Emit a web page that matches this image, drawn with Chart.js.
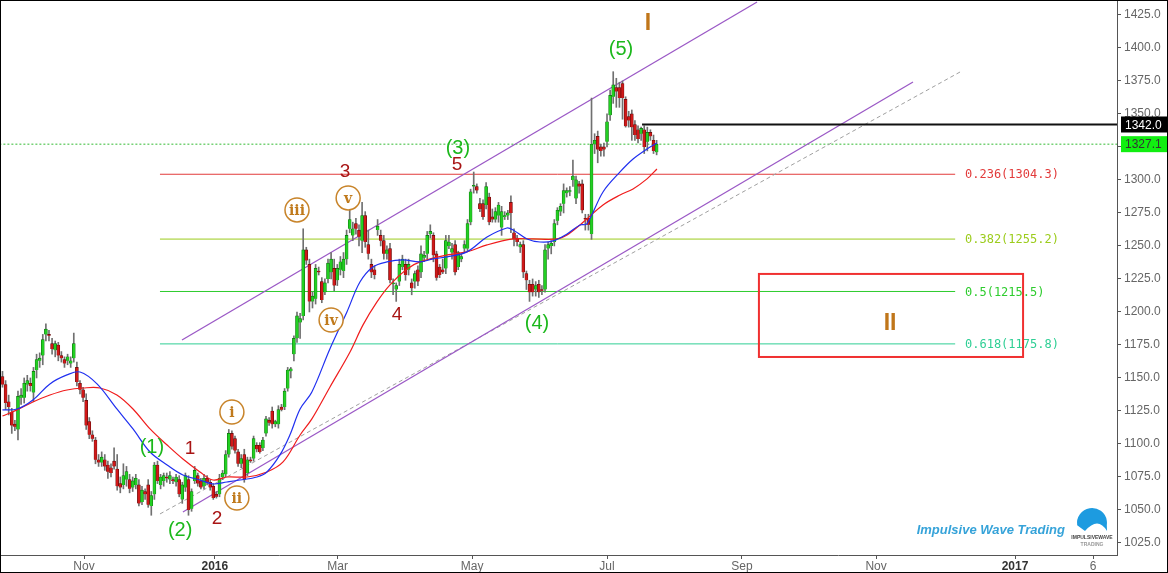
<!DOCTYPE html>
<html>
<head>
<meta charset="utf-8">
<script src="https://cdn.jsdelivr.net/npm/chart.js@4.4.0/dist/chart.umd.min.js"></script>
<style>
  body { margin: 0; background: #fff; }
  #wrap { width: 1168px; height: 573px; }
</style>
</head>
<body>
<div id="wrap"><canvas id="myChart" width="1168" height="573"></canvas></div>
<script>
// daily candles (gold)
var opens = [1151,1145,1132,1124,1115,1111,1135,1135,1145,1146,1139,1156,1163,1167,1183,1183,1176,1171,1175,1167,
  1164,1163,1161,1165,1158,1146,1141,1133,1117,1107,1103,1088,1086,1088,1084,1082,1087,1081,1070,1069,
  1073,1073,1067,1069,1069,1056,1064,1069,1053,1062,1084,1069,1072,1075,1073,1073,1071,1073,1058,1067,
  1073,1051,1072,1076,1072,1068,1074,1071,1068,1062,1062,1075,1077,1092,1108,1104,1094,1085,1092,1078,
  1088,1089,1099,1099,1097,1108,1118,1125,1115,1115,1128,1128,1142,1155,1168,1180,1192,1197,1247,1236,
  1208,1210,1231,1223,1215,1225,1230,1233,1224,1232,1231,1240,1263,1258,1267,1262,1254,1273,1251,1236,
  1232,1262,1258,1254,1244,1248,1221,1217,1223,1234,1236,1232,1222,1223,1232,1230,1241,1244,1259,1258,
  1244,1234,1232,1233,1250,1245,1251,1234,1240,1248,1248,1268,1295,1295,1282,1282,1281,1287,1272,1270,
  1273,1264,1272,1273,1283,1260,1256,1249,1251,1229,1221,1221,1217,1221,1217,1217,1248,1250,1253,1269,
  1276,1282,1290,1291,1300,1286,1297,1297,1271,1271,1259,1327,1333,1325,1325,1329,1349,1363,1370,1370,
  1373,1361,1348,1350,1342,1338,1335,1338,1329,1336,1330,1321];
var highs = [1155,1148,1137,1127,1118,1140,1142,1150,1152,1150,1158,1168,1169,1183,1191,1186,1180,1178,1177,1170,
  1166,1168,1166,1184,1162,1148,1143,1138,1120,1110,1105,1092,1094,1092,1087,1085,1097,1092,1075,1085,
  1083,1077,1075,1077,1073,1068,1066,1073,1064,1086,1087,1077,1078,1078,1079,1075,1077,1076,1071,1078,
  1076,1066,1083,1078,1074,1077,1076,1073,1070,1064,1077,1080,1095,1111,1110,1106,1096,1092,1096,1090,
  1090,1106,1101,1101,1105,1121,1120,1128,1118,1129,1130,1142,1158,1158,1182,1200,1199,1263,1249,1240,
  1215,1236,1234,1226,1225,1240,1245,1240,1236,1242,1245,1262,1281,1268,1271,1266,1283,1276,1262,1240,
  1235,1270,1262,1258,1250,1252,1225,1222,1240,1243,1240,1240,1225,1231,1235,1250,1246,1261,1266,1260,
  1246,1236,1240,1258,1258,1252,1254,1246,1244,1254,1270,1293,1306,1297,1286,1285,1298,1290,1278,1279,
  1283,1280,1276,1277,1288,1263,1258,1253,1254,1231,1224,1225,1223,1224,1220,1251,1253,1254,1270,1279,
  1282,1297,1294,1295,1315,1303,1299,1300,1274,1274,1362,1335,1337,1327,1328,1350,1368,1382,1377,1374,
  1375,1363,1352,1353,1345,1341,1340,1341,1340,1338,1334,1330];
var lows = [1143,1126,1122,1108,1110,1103,1130,1131,1140,1140,1132,1150,1158,1160,1178,1178,1168,1166,1163,1162,
  1158,1160,1158,1162,1144,1138,1132,1111,1104,1102,1085,1083,1083,1080,1074,1075,1081,1065,1063,1066,
  1068,1063,1064,1066,1053,1054,1058,1052,1046,1058,1070,1066,1068,1071,1070,1070,1068,1060,1055,1064,
  1046,1049,1070,1068,1066,1066,1069,1065,1058,1059,1060,1073,1075,1090,1096,1093,1083,1082,1071,1076,
  1086,1087,1094,1093,1095,1106,1114,1112,1113,1112,1125,1126,1140,1150,1163,1177,1180,1194,1236,1200,
  1203,1206,1228,1207,1213,1222,1225,1216,1220,1228,1226,1236,1260,1254,1259,1250,1245,1249,1240,1226,
  1225,1258,1250,1240,1240,1222,1213,1208,1220,1232,1224,1228,1213,1218,1220,1226,1238,1240,1256,1238,
  1224,1226,1229,1229,1248,1240,1228,1232,1238,1245,1246,1266,1290,1290,1276,1270,1278,1266,1268,1268,
  1268,1258,1270,1270,1260,1250,1250,1245,1226,1217,1208,1212,1212,1211,1213,1215,1240,1244,1250,1266,
  1273,1275,1287,1288,1295,1282,1290,1275,1262,1262,1255,1320,1313,1318,1318,1325,1345,1358,1355,1355,
  1346,1340,1340,1330,1330,1328,1330,1320,1322,1330,1320,1319];
var closes = [1145,1131,1128,1114,1113,1136,1137,1146,1148,1144,1155,1164,1165,1179,1187,1182,1172,1176,1167,1165,
  1161,1166,1163,1176,1147,1141,1135,1114,1107,1104,1088,1086,1090,1083,1079,1078,1083,1068,1067,1076,
  1079,1066,1072,1074,1055,1065,1062,1054,1061,1084,1072,1075,1076,1074,1076,1072,1075,1062,1069,1076,
  1050,1064,1080,1070,1067,1074,1071,1067,1059,1060,1074,1078,1092,1108,1098,1095,1085,1089,1073,1088,
  1087,1104,1096,1094,1103,1119,1116,1115,1117,1126,1126,1140,1156,1157,1180,1197,1195,1247,1239,1208,
  1212,1233,1230,1209,1222,1237,1240,1220,1233,1238,1240,1258,1270,1263,1263,1257,1273,1253,1244,1230,
  1228,1265,1254,1244,1247,1224,1222,1220,1236,1240,1228,1236,1218,1229,1223,1244,1243,1258,1261,1243,
  1226,1228,1230,1254,1253,1248,1230,1245,1242,1251,1267,1291,1296,1292,1278,1272,1295,1268,1270,1276,
  1281,1276,1273,1275,1275,1255,1253,1251,1230,1224,1215,1215,1220,1215,1216,1247,1251,1252,1267,1277,
  1280,1292,1292,1292,1303,1300,1295,1277,1270,1266,1327,1330,1323,1322,1323,1344,1364,1372,1367,1362,
  1362,1341,1345,1340,1334,1331,1339,1325,1336,1333,1322,1327];

// moving averages, sampled along the lines (bar index, price)
var blueIdx = [0,4.7,9.8,15.3,20.8,25,30.5,36.9,42.1,47.6,53.1,58.2,63.7,67.9,72.4,76.6,82.1,85.3,89.5,92.7,
  96,99.8,105.6,111.1,115.3,119.5,124,129.2,134.7,138.9,143.4,149.8,156.3,162.7,164.7,169.2,173.4,177.6,182.1,186.3,
  188.5,193.7,199.2,203.4,207.9,211.1];
var blueVal = [1125.8,1126.5,1133.3,1145.5,1152.3,1154.5,1145.5,1126.5,1111.4,1093.9,1084.1,1076.5,1072.7,1069.7,1071.2,1072.7,1075,1078.8,1091.7,1106.8,
  1126.5,1139.4,1172,1200,1222.7,1234.1,1237.9,1239.4,1237.9,1240.2,1241.7,1245.5,1256.8,1263.6,1262.1,1255.3,1253,1253.8,1259.1,1265.9,
  1266.7,1290.9,1306.1,1315.9,1323.5,1328];
var redIdx = [0,4.7,9.8,15.3,20.8,26,31.5,36.9,42.1,47.6,53.1,58.2,63.7,67.9,72.4,78.9,85.3,90.5,96,99.8,
  105.6,112.1,116.3,120.8,125,130.5,134.7,143.4,149.8,156.3,164.7,171.1,178.9,182.1,186.3,188.5,193.7,199.2,203.4,207.9,211.1];
var redVal = [1121.2,1125.8,1131.8,1137.1,1140.9,1142.4,1142.4,1137.1,1126.5,1111.4,1099.2,1088.6,1078.8,1072.7,1075,1075,1078.8,1086.4,1106.8,1119,
  1143,1169.7,1190.2,1207.6,1220.5,1232.6,1237.9,1243.2,1245.5,1250.8,1255.3,1255.3,1255.3,1258.3,1265.9,1270.5,1281.1,1288.6,1293.2,1300.8,1308.3];

// axis ticks
var xTickPos = [26.3, 68.5, 108.1, 151.5, 195, 238.5, 281.8, 326.6, 351.8];
var xTickLabels = ['Nov', '2016', 'Mar', 'May', 'Jul', 'Sep', 'Nov', '2017', '6'];
var yTicks = [1025,1050,1075,1100,1125,1150,1175,1200,1225,1250,1275,1300,1325,1350,1375,1400,1425];

// fibonacci levels
var fibRatios = ['0.236', '0.382', '0.5', '0.618'];
var fibLevels = [1304.3, 1255.2, 1215.5, 1175.8];
var fibColors = ['#e23b3b', '#9ccc1c', '#2ecc2e', '#2fcf95'];

var lastPrice = 1327.1;
var markPrice = 1342.0;

// wave labels: [text, bar index, price, kind]
var waveLabels = [
  ['I', 208.2, 1418.2, 'big'],
  ['(5)', 199.5, 1398.5, 'green'],
  ['(3)', 146.9, 1324.2, 'green'],
  ['5', 146.6, 1311.4, 'red'],
  ['3', 110.5, 1306.1, 'red'],
  ['(4)', 172.4, 1190.9, 'green'],
  ['4', 127.3, 1197.7, 'red'],
  ['(1)', 48.2, 1097.7, 'green'],
  ['1', 60.5, 1096.2, 'red'],
  ['(2)', 57.3, 1034.8, 'green'],
  ['2', 69.2, 1043.2, 'red'],
  ['iii', 95, 1277.3, 'circle'],
  ['v', 111.5, 1286.4, 'circle'],
  ['iv', 106, 1193.9, 'circle'],
  ['i', 74, 1124.2, 'circle'],
  ['ii', 75.6, 1059.1, 'circle'],
  ['II', 286.3, 1190.9, 'big']
];

var GREEN = '#22d022', RED = '#d01818';

function candleColor(i){
  return closes[i] >= opens[i] ? GREEN : RED;
}

var datasets = [];

// fib lines
fibLevels.forEach(function(v, k){
  datasets.push({
    type: 'line', order: 10,
    data: [{x: 50.8, y: v}, {x: 307.3, y: v}],
    borderColor: fibColors[k], borderWidth: 1, pointRadius: 0
  });
});

// channel + trend lines
datasets.push({ type: 'line', order: 9, data: [{x: 57.9, y: 1178.8}, {x: 243.4, y: 1434.8}],
  borderColor: '#9b59c6', borderWidth: 1.3, pointRadius: 0 });
datasets.push({ type: 'line', order: 9, data: [{x: 58.2, y: 1048.5}, {x: 293.7, y: 1374.2}],
  borderColor: '#9b59c6', borderWidth: 1.3, pointRadius: 0 });
datasets.push({ type: 'line', order: 9, data: [{x: 50.8, y: 1047}, {x: 308.9, y: 1381.8}],
  borderColor: '#a0a0a0', borderWidth: 1, borderDash: [4, 3], pointRadius: 0 });

// last price dotted + 1342 level
datasets.push({ type: 'line', order: 9, data: [{x: -1, y: lastPrice}, {x: 360, y: lastPrice}],
  borderColor: '#33bb33', borderWidth: 1, borderDash: [2, 2], pointRadius: 0 });
datasets.push({ type: 'line', order: 2, data: [{x: 206.3, y: markPrice}, {x: 360, y: markPrice}],
  borderColor: '#111', borderWidth: 2, pointRadius: 0 });

// wicks
datasets.push({
  type: 'bar', order: 5, grouped: false, barThickness: 1,
  data: opens.map(function(o, i){ return {x: i, y: [lows[i], highs[i]]}; }),
  backgroundColor: '#707070'
});
// bodies
datasets.push({
  type: 'bar', order: 4, grouped: false, barThickness: 3, minBarLength: 1,
  data: opens.map(function(o, i){ return {x: i, y: [o, closes[i]]}; }),
  backgroundColor: opens.map(function(o, i){ return candleColor(i); }),
  borderColor: opens.map(function(o, i){ return closes[i] >= o ? '#0d6d0d' : '#5a0a0a'; }),
  borderWidth: 0.6
});

// moving averages
datasets.push({ type: 'line', order: 1, data: blueIdx.map(function(x, k){ return {x: x, y: blueVal[k]}; }),
  borderColor: '#1f2ff0', borderWidth: 1.2, pointRadius: 0, tension: 0.35 });
datasets.push({ type: 'line', order: 1, data: redIdx.map(function(x, k){ return {x: x, y: redVal[k]}; }),
  borderColor: '#f01c1c', borderWidth: 1.2, pointRadius: 0, tension: 0.35 });

// drawing on top: labels, box, price tags, logo, frame
var decor = {
  id: 'decor',
  beforeDraw: function(chart){
    var c = chart.ctx;
    c.save();
    c.fillStyle = '#fff';
    c.fillRect(0, 0, chart.width, chart.height);
    c.restore();
  },
  afterDraw: function(chart){
    var c = chart.ctx, xs = chart.scales.x, ys = chart.scales.y;
    c.save();

    // fib labels
    c.font = '12px "DejaVu Sans Mono"';
    c.textAlign = 'left';
    c.textBaseline = 'middle';
    fibLevels.forEach(function(v, k){
      c.fillStyle = fibColors[k];
      c.fillText(fibRatios[k] + '(' + v.toFixed(1) + ')', 965, ys.getPixelForValue(v) + 1);
    });

    // red target box
    var bx1 = xs.getPixelForValue(244), bx2 = xs.getPixelForValue(329.2);
    var by1 = ys.getPixelForValue(1228.8), by2 = ys.getPixelForValue(1165.9);
    c.strokeStyle = '#f03030';
    c.lineWidth = 2;
    c.strokeRect(bx1, by1, bx2 - bx1, by2 - by1);

    // wave labels
    c.textAlign = 'center';
    waveLabels.forEach(function(w){
      var px = xs.getPixelForValue(w[1]), py = ys.getPixelForValue(w[2]);
      if (w[3] === 'circle') {
        c.beginPath();
        c.arc(px, py, 12, 0, Math.PI * 2);
        c.fillStyle = '#fff';
        c.fill();
        c.strokeStyle = '#c8842a';
        c.lineWidth = 1.5;
        c.stroke();
        c.fillStyle = '#c07a1c';
        c.font = 'bold 14px "DejaVu Serif"';
        c.fillText(w[0], px, py + 1);
      } else if (w[3] === 'big') {
        c.fillStyle = '#c0761a';
        c.font = 'bold 23px "Liberation Sans"';
        c.fillText(w[0], px, py);
      } else if (w[3] === 'green') {
        c.fillStyle = '#1cb81c';
        c.font = '20px "Liberation Sans"';
        c.fillText(w[0], px, py);
      } else {
        c.fillStyle = '#a81414';
        c.font = '19px "Liberation Sans"';
        c.fillText(w[0], px, py);
      }
    });

    // price tags on the axis
    var ay = ys.getPixelForValue(markPrice);
    c.fillStyle = '#000';
    c.fillRect(1121, ay - 8, 46, 16);
    c.fillStyle = '#fff';
    c.font = '12px "Liberation Sans"';
    c.textAlign = 'left';
    c.fillText(markPrice.toFixed(1), 1125, ay + 1);
    var ly = ys.getPixelForValue(lastPrice);
    c.fillStyle = '#11ee11';
    c.fillRect(1121, ly - 8, 46, 16);
    c.fillStyle = '#333';
    c.fillText(lastPrice.toFixed(1), 1125, ly + 1);

    // watermark text + logo
    c.fillStyle = '#36a3d9';
    c.font = 'italic bold 13px "Liberation Sans"';
    c.textAlign = 'right';
    c.fillText('Impulsive Wave Trading', 1065, 530);
    c.fillStyle = '#1d9be0';
    c.beginPath();
    c.arc(1092, 523, 15, Math.PI * 0.95, Math.PI * 2.05);
    c.lineTo(1107, 531);
    c.quadraticCurveTo(1098, 516, 1085, 531);
    c.closePath();
    c.fill();
    c.fillStyle = '#444';
    c.font = 'bold 5px "Liberation Sans"';
    c.textAlign = 'center';
    c.fillText('IMPULSIVEWAVE', 1092, 538);
    c.fillStyle = '#999';
    c.fillText('TRADING', 1092, 545);

    // outer frame
    c.strokeStyle = '#000';
    c.lineWidth = 1;
    c.strokeRect(0.5, 0.5, chart.width - 1, chart.height - 1);
    c.restore();
  }
};

var ctx = document.getElementById('myChart');
var chart = new Chart(ctx, {
  type: 'bar',
  data: { datasets: datasets },
  options: {
    responsive: false,
    animation: false,
    events: [],
    layout: { padding: 0 },
    plugins: { legend: { display: false }, tooltip: { enabled: false } },
    scales: {
      x: {
        type: 'linear',
        min: -0.8, max: 359.5,
        offset: false,
        afterBuildTicks: function(s){ s.ticks = xTickPos.map(function(v){ return {value: v}; }); },
        afterFit: function(s){ s.height = 18; s.paddingLeft = 0; s.paddingRight = 0; },
        grid: { display: true, offset: false, drawOnChartArea: false, drawTicks: true, tickLength: 4, color: '#555' },
        border: { display: true, color: '#555', width: 1 },
        ticks: {
          autoSkip: false, maxRotation: 0, padding: 0,
          color: function(c){ return (c.index === 1 || c.index === 7) ? '#333' : '#666'; },
          font: function(c){ return (c.index === 1 || c.index === 7) ? {family: 'Liberation Sans', size: 12, weight: 'bold'} : {family: 'Liberation Sans', size: 12}; },
          callback: function(v, i){ return xTickLabels[i]; }
        }
      },
      y: {
        position: 'right',
        min: 1015.9, max: 1436.3,
        afterBuildTicks: function(s){ s.ticks = yTicks.map(function(v){ return {value: v}; }); },
        afterFit: function(s){ s.width = 51; s.paddingTop = 0; s.paddingBottom = 0; },
        grid: { display: true, drawOnChartArea: false, drawTicks: true, tickLength: 4, color: '#555' },
        border: { display: true, color: '#555', width: 1 },
        ticks: {
          padding: 3, color: '#666',
          font: { family: 'Liberation Sans', size: 12 },
          callback: function(v){ return Number(v).toFixed(1); }
        }
      }
    }
  },
  plugins: [decor]
});
</script>
</body>
</html>
